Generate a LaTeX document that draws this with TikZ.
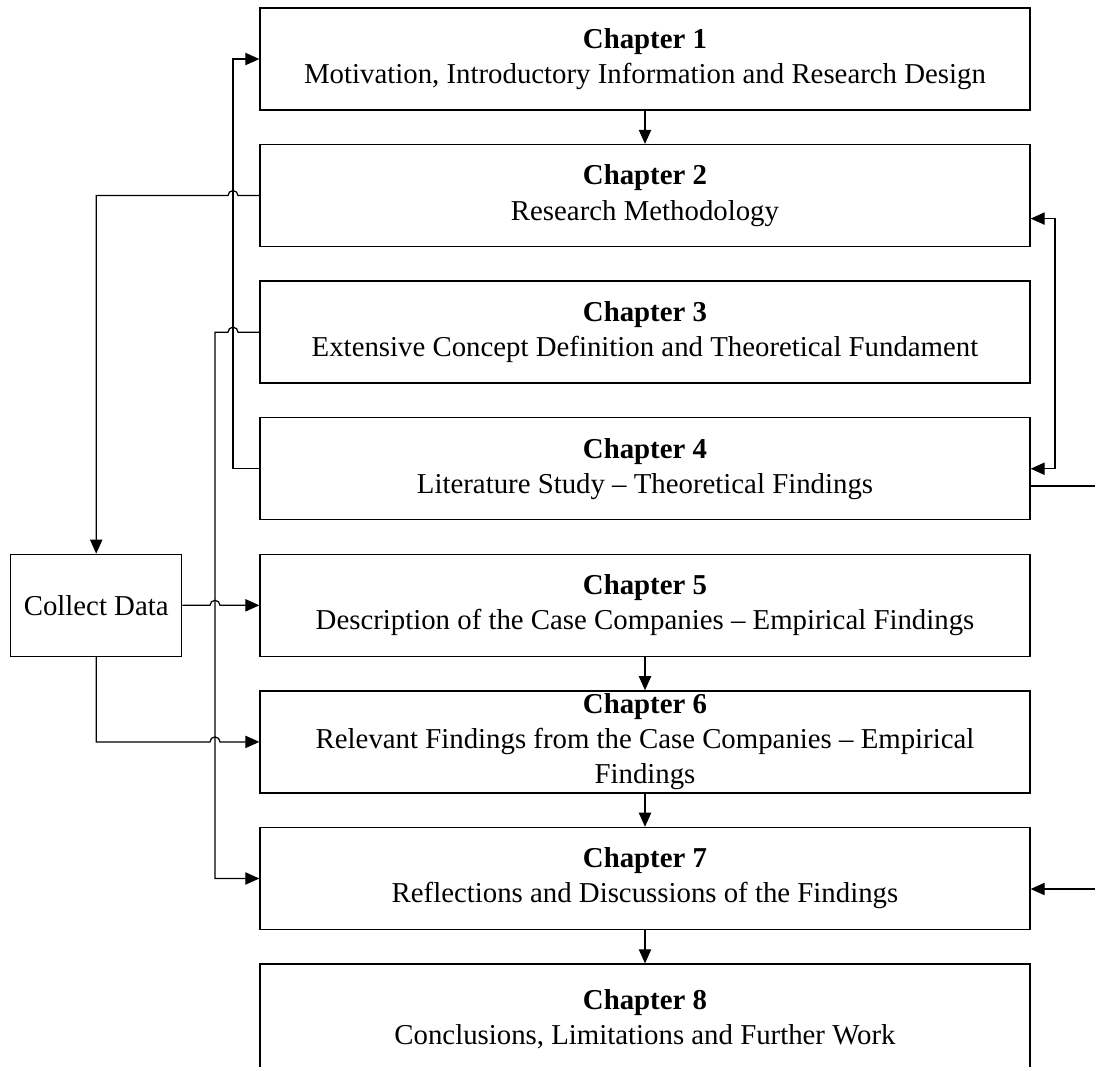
\documentclass[tikz,border=0pt]{standalone}
\usepackage{fontspec}
\setmainfont{Liberation Serif}
\usetikzlibrary{arrows.meta,positioning,calc}

\begin{document}
\begin{tikzpicture}[x=0.02cm,y=-0.02cm,node distance=0.664cm,>={Triangle[length=8pt,width=7pt]},
  chapbox/.style={draw,line width=0.8pt,minimum width=15.4cm,minimum height=2.04cm,align=center,font=\fontsize{16.4}{20}\selectfont},
  databox/.style={draw,line width=0.8pt,minimum width=3.42cm,minimum height=2.04cm,font=\fontsize{16.4}{20}\selectfont},
  link/.style={line width=0.7pt}]
\clip (0,0) rectangle (1095,1066);
\node[chapbox] (ch1) at (645,59) {\textbf{Chapter 1}\\Motivation, Introductory Information and Research Design};
\node[chapbox,below=of ch1] (ch2) {\textbf{Chapter 2}\\Research Methodology};
\node[chapbox,below=of ch2] (ch3) {\textbf{Chapter 3}\\Extensive Concept Definition and Theoretical Fundament};
\node[chapbox,below=of ch3] (ch4) {\textbf{Chapter 4}\\Literature Study -- Theoretical Findings};
\node[chapbox,below=of ch4] (ch5) {\textbf{Chapter 5}\\Description of the Case Companies -- Empirical Findings};
\node[chapbox,inner ysep=0pt,below=of ch5] (ch6) {\textbf{Chapter 6}\\Relevant Findings from the Case Companies -- Empirical\\Findings};
\node[chapbox,below=of ch6] (ch7) {\textbf{Chapter 7}\\Reflections and Discussions of the Findings};
\node[chapbox,minimum height=2.2cm,below=of ch7] (ch8) {\textbf{Chapter 8}\\Conclusions, Limitations and Further Work};
\node[databox,left=1.54cm of ch5] (cd) {Collect Data};

\coordinate (laneA) at (233,0);
\coordinate (laneB) at (215,0);
\coordinate (laneR) at (1055,0);
\coordinate (out4) at (1095,486);
\coordinate (in7) at (1095,889);

\draw[link,->] (ch1) -- (ch2);
\draw[link,->] (ch5) -- (ch6);
\draw[link,->] (ch6) -- (ch7);
\draw[link,->] (ch7) -- (ch8);

\draw[link,->] (ch4.west) -- (ch4.west -| laneA) -- (ch1.west -| laneA) -- (ch1.west);
\draw[link,->] (ch2.west) -- ($(ch2.west -| laneA)+(5,0)$) arc[start angle=0,end angle=180,radius=0.1cm]
  -- (ch2.west -| cd.north) -- (cd.north);
\draw[link,->] (ch3.west) -- ($(ch3.west -| laneA)+(5,0)$) arc[start angle=0,end angle=180,radius=0.1cm]
  -- (ch3.west -| laneB) -- (ch7.west -| laneB) -- (ch7.west);
\draw[link,->] (cd.east) -- ($(cd.east -| laneB)+(-5,0)$) arc[start angle=180,end angle=0,radius=0.1cm] -- (ch5.west);
\draw[link,->] (cd.south) -- (cd.south |- ch6.west) -- ($(ch6.west -| laneB)+(-5,0)$)
  arc[start angle=180,end angle=0,radius=0.1cm] -- (ch6.west);

\draw[link,<->] ($(ch2.east)+(0,23)$) -| (laneR |- ch4.east) -- (ch4.east);
\draw[link] (out4 -| ch4.east) -- (out4);
\draw[link,->] (in7) -- (in7 -| ch7.east);
\end{tikzpicture}
\end{document}
